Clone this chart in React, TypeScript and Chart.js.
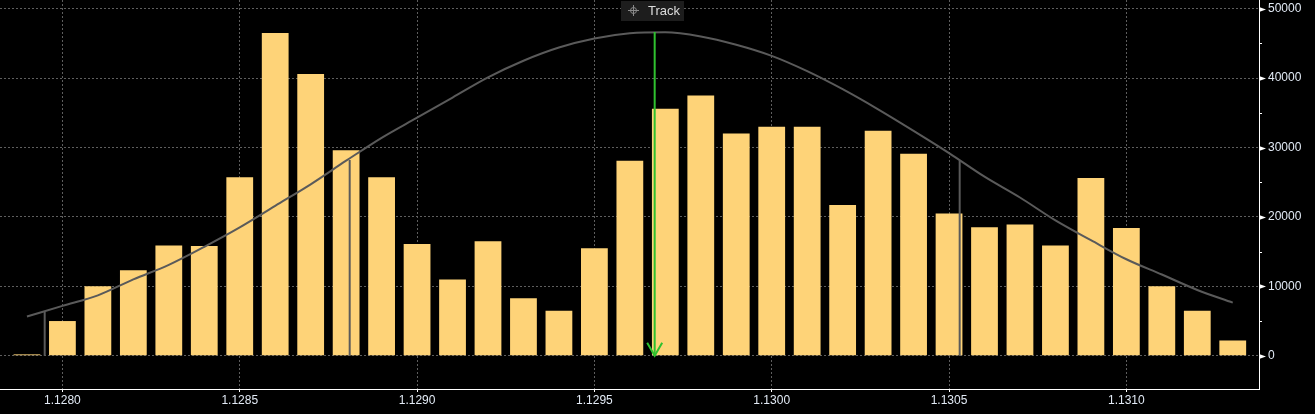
import { useEffect, useRef } from "react";
import { Chart, registerables } from "chart.js";

Chart.register(...registerables);

// Price levels (x) for each histogram bar
const priceLevels = [
  1.1279, 1.128, 1.1281, 1.1282, 1.1283, 1.1284, 1.1285, 1.1286, 1.1287, 1.1288,
  1.1289, 1.129, 1.1291, 1.1292, 1.1293, 1.1294, 1.1295, 1.1296, 1.1297, 1.1298,
  1.1299, 1.13, 1.1301, 1.1302, 1.1303, 1.1304, 1.1305, 1.1306, 1.1307, 1.1308,
  1.1309, 1.131, 1.1311, 1.1312, 1.1313,
];

// Volume at each price level
const volumes = [
  200, 5000, 10000, 12300, 15900, 15800, 25700, 46500, 40600, 29600,
  25700, 16100, 11000, 16500, 8300, 6500, 15500, 28100, 35600, 37500,
  32000, 33000, 33000, 21700, 32400, 29100, 20500, 18500, 18900, 15900,
  25600, 18400, 10000, 6500, 2200,
];

// Fitted distribution curve read at each price level
const curveValues = [
  5650, 7180, 8700, 11000, 13100, 15700, 18500, 21600, 24700, 28100,
  31400, 34300, 37200, 40100, 42500, 44400, 45700, 46450, 46600, 46000,
  44800, 43200, 41000, 38400, 35500, 32400, 29200, 25800, 22800, 19500,
  16650, 13900, 11700, 9480, 7660,
];

// Sigma marker lines
const sigmaPrices = [1.12795, 1.12881, 1.13053];
const sigmaTops = [6300, 28200, 28100];

// Mean (track) marker
const meanPrice = 1.12967;
const meanTop = 46650;
const trackLabel = "Track";

// Axis ticks and ranges
const xTicks = [1.128, 1.1285, 1.129, 1.1295, 1.13, 1.1305, 1.131];
const yTicks = [0, 5000, 10000, 15000, 20000, 25000, 30000, 35000, 40000, 45000, 50000];
const xMin = 1.127824;
const xMax = 1.131374;
const yMin = -4790;
const yMax = 51250;

const BAR_COLOR = "#fed378";
const CURVE_COLOR = "#5a5a5a";
const GREEN = "#2fc12f";
const GRID = "#5e5e5e";
const TEXT = "#e2eaf5";
const FONT_FAMILY = "'Liberation Sans', Arial, sans-serif";

const overlayPlugin = {
  id: "overlay",
  afterDraw(chart: any) {
    const { ctx, chartArea } = chart;
    const x = chart.scales.x;
    const y = chart.scales.y;
    ctx.save();

    // y-axis tick markers (triangles for major, short lines for minor)
    const ax = Math.round(chartArea.right);
    for (const v of yTicks) {
      const py = Math.round(y.getPixelForValue(v)) + 0.5;
      if (v % 10000 === 0) {
        ctx.fillStyle = "#ffffff";
        ctx.beginPath();
        ctx.moveTo(ax, py - 2.5);
        ctx.lineTo(ax + 7, py);
        ctx.lineTo(ax, py + 2.5);
        ctx.closePath();
        ctx.fill();
      } else {
        ctx.strokeStyle = "#ffffff";
        ctx.lineWidth = 1;
        ctx.beginPath();
        ctx.moveTo(ax, py);
        ctx.lineTo(ax + 3, py);
        ctx.stroke();
      }
    }

    // green arrowhead at base of mean line
    const gx = x.getPixelForValue(meanPrice);
    const gy = y.getPixelForValue(0);
    ctx.strokeStyle = GREEN;
    ctx.lineWidth = 2;
    ctx.beginPath();
    ctx.moveTo(gx - 7.5, gy - 13);
    ctx.lineTo(gx, gy);
    ctx.lineTo(gx + 7.5, gy - 13);
    ctx.stroke();

    // Track label box
    const boxLeft = Math.round(gx - 34);
    ctx.fillStyle = "#1d1d1d";
    ctx.fillRect(boxLeft, 1, 63, 20);
    // crosshair icon
    const cx = boxLeft + 12.5;
    const cy = 10.5;
    ctx.strokeStyle = "#8a8a8a";
    ctx.lineWidth = 1;
    ctx.beginPath();
    ctx.arc(cx, cy, 3, 0, Math.PI * 2);
    ctx.stroke();
    ctx.beginPath();
    ctx.moveTo(cx - 5.5, cy);
    ctx.lineTo(cx + 5.5, cy);
    ctx.moveTo(cx, cy - 5.5);
    ctx.lineTo(cx, cy + 5.5);
    ctx.stroke();
    ctx.fillStyle = "#dcdcdc";
    ctx.font = `13px ${FONT_FAMILY}`;
    ctx.textBaseline = "middle";
    ctx.textAlign = "left";
    ctx.fillText(trackLabel, boxLeft + 27, 11.5);

    ctx.restore();
  },
};

export default function App() {
  const canvasRef = useRef<HTMLCanvasElement | null>(null);

  useEffect(() => {
    document.body.style.margin = "0";
    document.body.style.background = "#000";
    const canvas = canvasRef.current;
    if (!canvas) return;

    const barData = priceLevels.map((p, i) => ({ x: p, y: volumes[i] }));
    const curveData = priceLevels.map((p, i) => ({ x: p, y: curveValues[i] }));
    const sigmaSets = sigmaPrices.map((p, i) => ({
      type: "line" as const,
      data: [
        { x: p, y: 0 },
        { x: p, y: sigmaTops[i] },
      ],
      borderColor: CURVE_COLOR,
      borderWidth: 2,
      pointRadius: 0,
      order: 2,
    }));

    const chart = new Chart(canvas, {
      type: "bar",
      data: {
        datasets: [
          {
            type: "line",
            data: [
              { x: meanPrice, y: meanTop },
              { x: meanPrice, y: 0 },
            ],
            borderColor: GREEN,
            borderWidth: 2,
            pointRadius: 0,
            order: 1,
          } as any,
          ...sigmaSets,
          {
            type: "line",
            data: curveData,
            borderColor: CURVE_COLOR,
            borderWidth: 2,
            pointRadius: 0,
            cubicInterpolationMode: "monotone",
            order: 3,
          } as any,
          {
            type: "bar",
            data: barData,
            backgroundColor: BAR_COLOR,
            borderWidth: 0,
            barPercentage: 0.755,
            categoryPercentage: 1,
            order: 4,
          } as any,
        ],
      },
      options: {
        responsive: false,
        animation: false,
        devicePixelRatio: 1,
        layout: { padding: 0 },
        plugins: {
          legend: { display: false },
          tooltip: { enabled: false },
        },
        scales: {
          x: {
            type: "linear",
            min: xMin,
            max: xMax,
            offset: false,
            afterBuildTicks: (scale: any) => {
              scale.ticks = xTicks.map((v) => ({ value: v }));
            },
            afterFit: (scale: any) => {
              scale.height = 25;
              scale.paddingLeft = 0;
              scale.paddingRight = 0;
            },
            grid: {
              offset: false,
              color: GRID,
              lineWidth: 1,
              drawTicks: true,
              tickLength: 3,
              tickColor: "#ffffff",
              tickBorderDash: [],
            } as any,
            border: { display: true, color: "#ffffff", width: 1, dash: [2, 2] },
            ticks: {
              color: TEXT,
              font: { family: FONT_FAMILY, size: 12 },
              padding: 1,
              maxRotation: 0,
              autoSkip: false,
              callback: (v: any) => Number(v).toFixed(4),
            },
          },
          y: {
            type: "linear",
            position: "right",
            min: yMin,
            max: yMax,
            afterBuildTicks: (scale: any) => {
              scale.ticks = yTicks.map((v) => ({ value: v }));
            },
            afterFit: (scale: any) => {
              scale.width = 56;
              scale.paddingTop = 0;
              scale.paddingBottom = 0;
            },
            grid: {
              color: (c: any) =>
                c.tick && c.tick.value % 10000 === 0 ? GRID : "rgba(0,0,0,0)",
              lineWidth: 1,
              drawTicks: false,
            } as any,
            border: { display: true, color: "#ffffff", width: 1, dash: [2, 2] },
            ticks: {
              color: TEXT,
              font: { family: FONT_FAMILY, size: 12 },
              padding: 9,
              autoSkip: false,
              callback: (v: any) => (Number(v) % 10000 === 0 ? String(v) : ""),
            },
          },
        },
      },
      plugins: [overlayPlugin],
    });

    return () => chart.destroy();
  }, []);

  return (
    <div
      style={{
        position: "fixed",
        left: 0,
        top: 0,
        width: 1315,
        height: 414,
        background: "#000",
      }}
    >
      <canvas ref={canvasRef} width={1315} height={414} />
    </div>
  );
}
